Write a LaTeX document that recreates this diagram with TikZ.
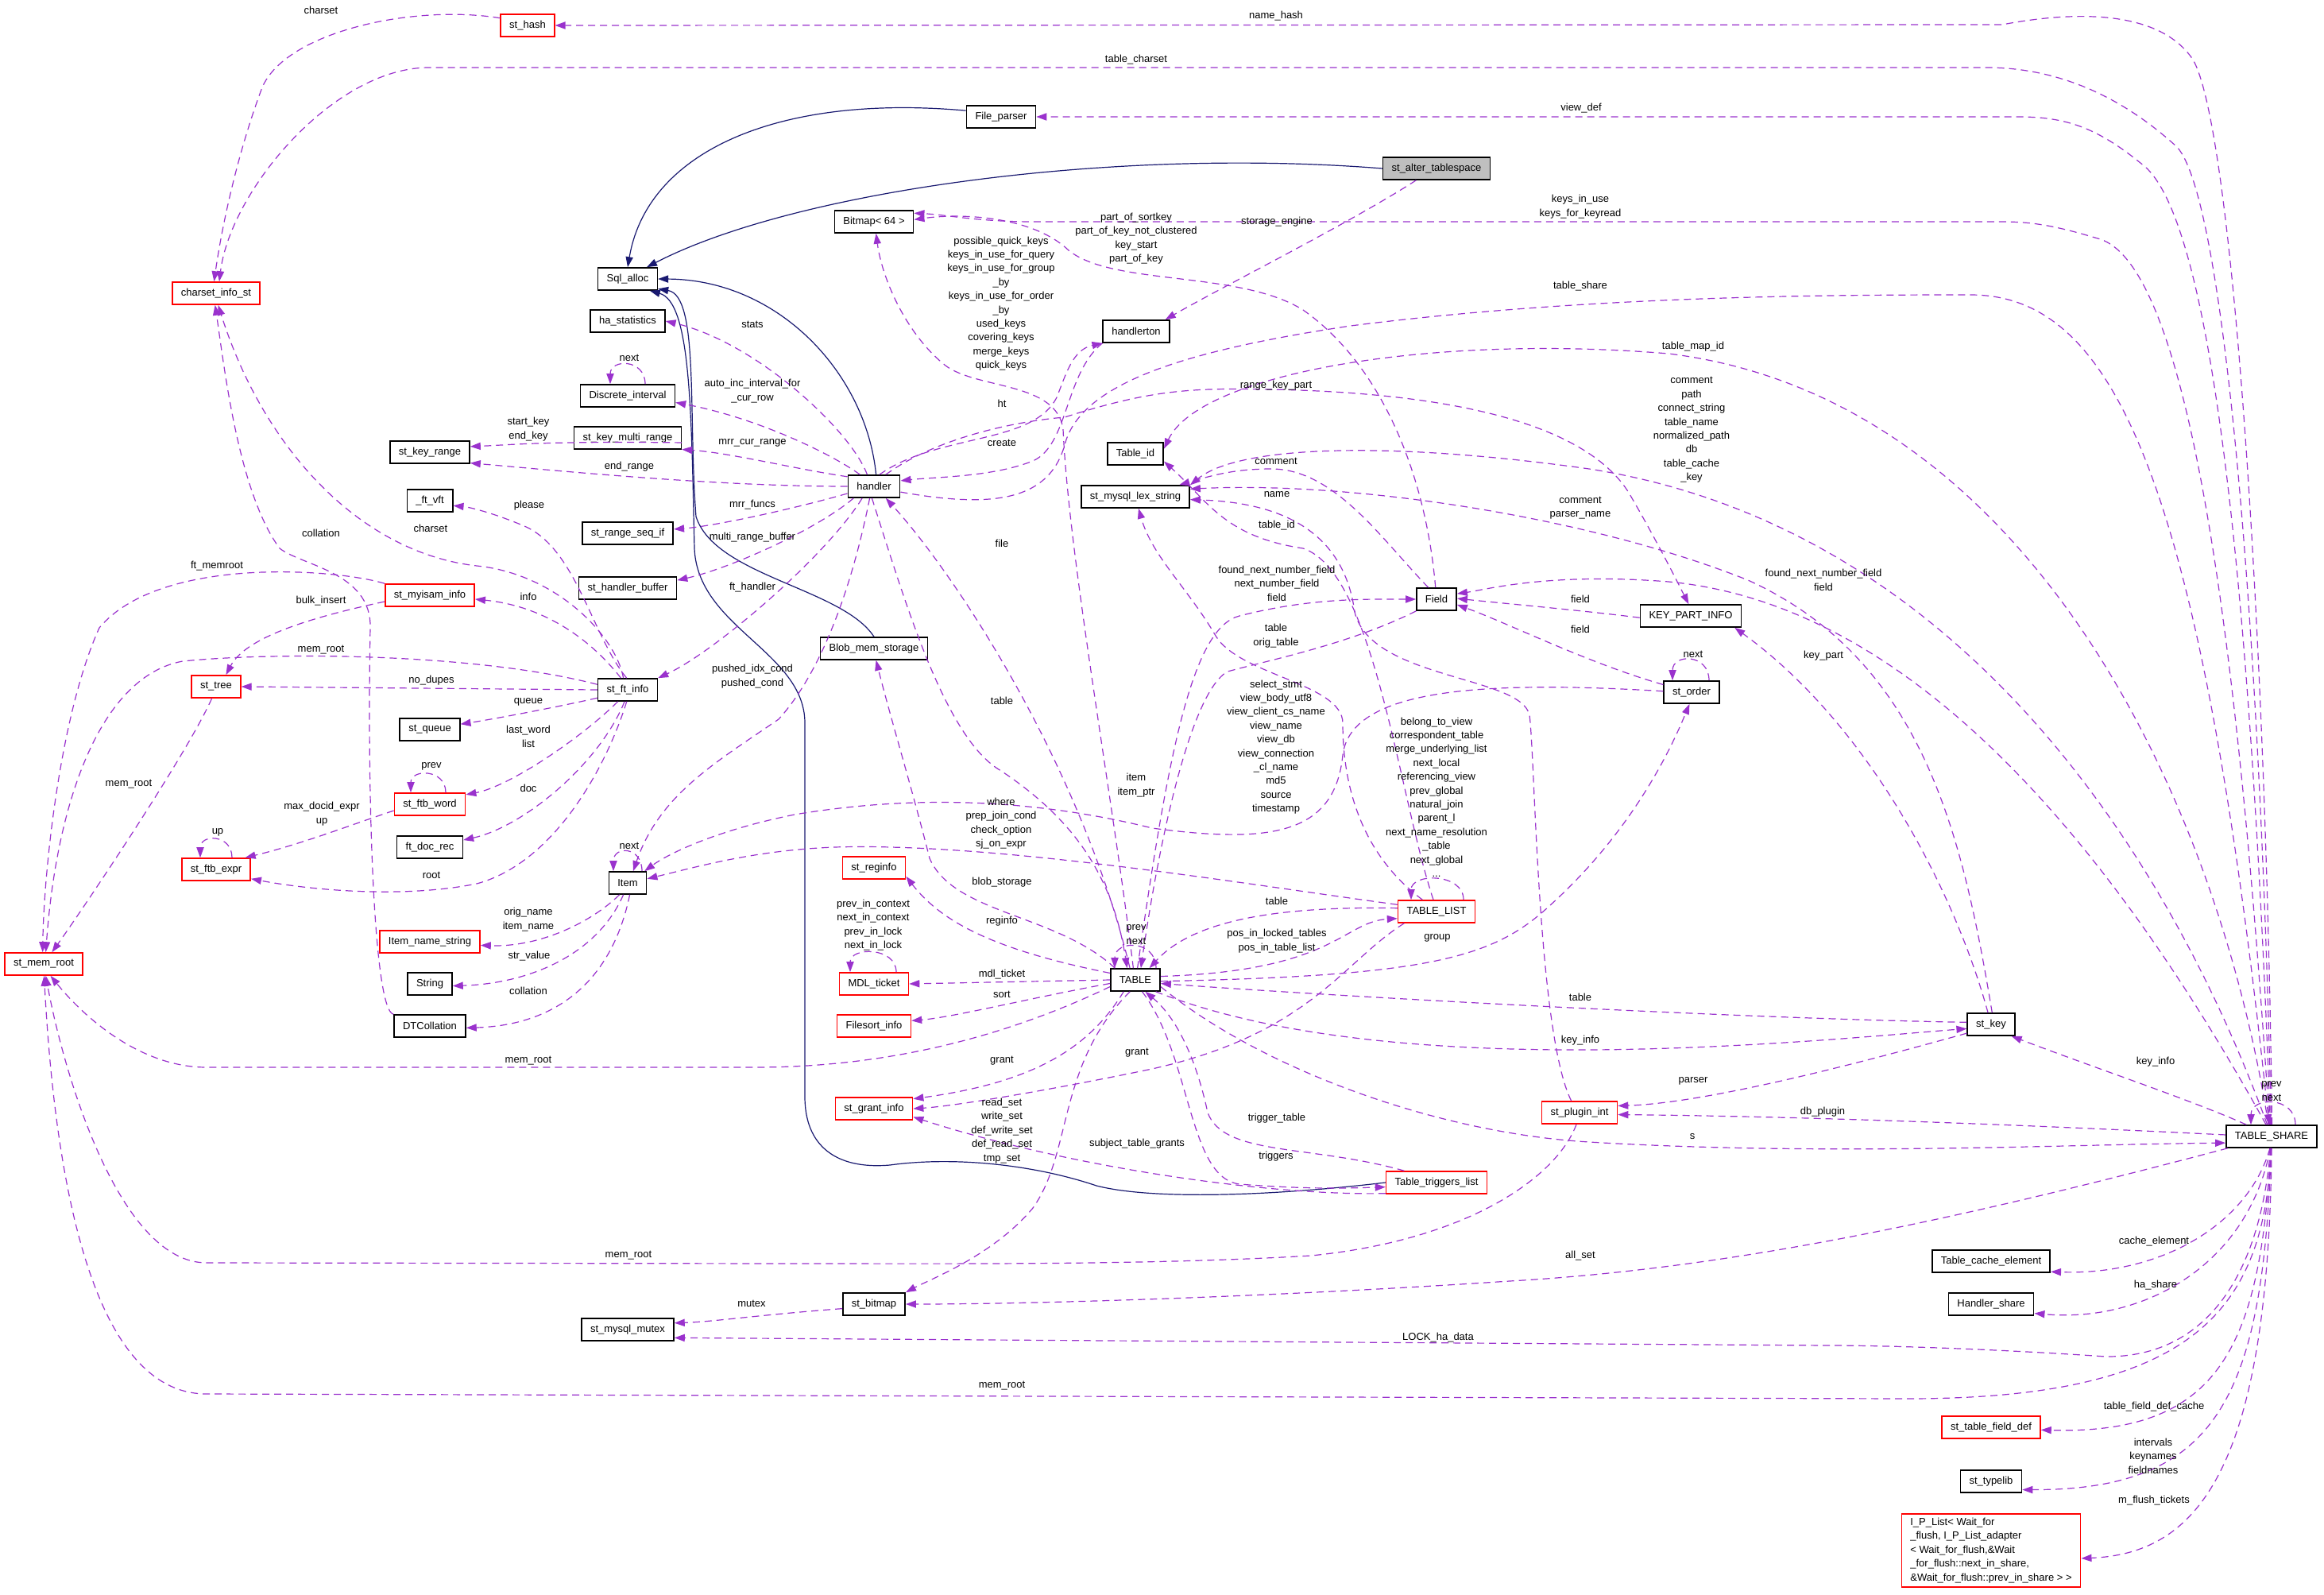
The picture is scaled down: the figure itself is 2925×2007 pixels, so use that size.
\documentclass[tikz,border=0pt]{standalone}
\usepackage{fontspec}
\setmainfont{Liberation Sans}
\usetikzlibrary{arrows.meta}

\definecolor{dxpurple}{HTML}{9A32CD}
\definecolor{dxblue}{HTML}{191970}
\definecolor{dxred}{HTML}{FF0000}
\definecolor{dxgray}{HTML}{BFBFBF}
\newcommand\dxfont{\fontsize{6.5}{8.7}\selectfont}

\tikzset{
  cls/.style={draw=black, line width=0.8pt, fill=white, minimum height=14pt,
              inner xsep=5.5pt, inner ysep=0pt, font=\dxfont},
  trunc/.style={cls, draw=dxred},
  curcls/.style={cls, fill=dxgray},
  lbl/.style={font=\dxfont, align=center, inner sep=0pt},
  dep/.style={draw=dxpurple, line width=0.6pt, dash pattern=on 4.5pt off 3pt,
              -{Triangle[length=6.5pt,width=4.6pt]}},
  inh/.style={draw=dxblue, line width=0.6pt, -{Triangle[length=6.5pt,width=4.6pt]}}
}

\begin{document}
\catcode`\_=12
\begin{tikzpicture}[x=0.5pt, y=-0.5pt]
   \useasboundingbox (0,0) rectangle (2925,2007);
   % classes
   \node[trunc] (sthash) at (664,32) {st_hash};
   \node[trunc] (charset) at (272,369) {charset_info_st};
   \node[cls] (fileparser) at (1260,147) {File_parser};
   \node[curcls] (alterts) at (1808,212) {st_alter_tablespace};
   \node[cls] (bitmap) at (1100,279) {Bitmap< 64 >};
   \node[cls] (sqlalloc) at (790,351) {Sql_alloc};
   \node[cls] (hastats) at (790,404) {ha_statistics};
   \node[cls] (handlerton) at (1430,417) {handlerton};
   \node[cls] (discrete) at (790,498) {Discrete_interval};
   \node[cls] (keymulti) at (790,551) {st_key_multi_range};
   \node[cls] (keyrange) at (541,569) {st_key_range};
   \node[cls] (tableid) at (1429,571) {Table_id};
   \node[cls] (handler) at (1100,612) {handler};
   \node[cls] (lexstr) at (1429,625) {st_mysql_lex_string};
   \node[cls] (ftvft) at (541,630) {_ft_vft};
   \node[cls] (rangeseq) at (790,671) {st_range_seq_if};
   \node[cls] (hbuffer) at (790,740) {st_handler_buffer};
   \node[trunc] (myisam) at (541,749) {st_myisam_info};
   \node[cls] (field) at (1808,754) {Field};
   \node[cls] (keypart) at (2128,775) {KEY_PART_INFO};
   \node[cls] (blobmem) at (1100,816) {Blob_mem_storage};
   \node[trunc] (sttree) at (272,864) {st_tree};
   \node[cls] (ftinfo) at (790,868) {st_ft_info};
   \node[cls] (storder) at (2129,871) {st_order};
   \node[cls] (stqueue) at (541,918) {st_queue};
   \node[trunc] (ftbword) at (541,1012) {st_ftb_word};
   \node[cls] (ftdocrec) at (541,1066) {ft_doc_rec};
   \node[trunc] (reginfo) at (1100,1092) {st_reginfo};
   \node[trunc] (ftbexpr) at (272,1094) {st_ftb_expr};
   \node[cls] (item) at (790,1111) {Item};
   \node[trunc] (tablelist) at (1808,1147) {TABLE_LIST};
   \node[trunc] (itemname) at (541,1185) {Item_name_string};
   \node[trunc] (memroot) at (55,1213) {st_mem_root};
   \node[trunc] (mdlticket) at (1100,1238) {MDL_ticket};
   \node[cls] (table) at (1429,1233) {TABLE};
   \node[cls] (string) at (541,1238) {String};
   \node[cls] (stkey) at (2506,1289) {st_key};
   \node[cls] (dtcoll) at (541,1291) {DTCollation};
   \node[trunc] (filesort) at (1100,1291) {Filesort_info};
   \node[trunc] (grantinfo) at (1100,1395) {st_grant_info};
   \node[trunc] (plugin) at (1988,1400) {st_plugin_int};
   \node[cls] (tshare) at (2859,1430) {TABLE_SHARE};
   \node[trunc] (triggers) at (1808,1488) {Table_triggers_list};
   \node[cls] (cacheel) at (2506,1587) {Table_cache_element};
   \node[cls] (bitmapst) at (1100,1641) {st_bitmap};
   \node[cls] (hshare) at (2506,1641) {Handler_share};
   \node[cls] (mutex) at (790,1673) {st_mysql_mutex};
   \node[trunc] (fielddef) at (2506,1796) {st_table_field_def};
   \node[cls] (typelib) at (2506,1864) {st_typelib};
   \node[trunc, align=left, inner ysep=2.5pt] (iplist) at (2506,1951)
      {I_P_List< Wait_for\\_flush, I_P_List_adapter\\< Wait_for_flush,\&Wait\\_for_flush::next_in_share,\\\&Wait_for_flush::prev_in_share > >};

   % inheritance
   \draw[inh] (fileparser.170) .. controls (980,118) and (815,190) .. (sqlalloc.north);
   \draw[inh] (alterts.west) .. controls (1400,185) and (1000,240) .. ([xshift=12pt]sqlalloc.north);
   \draw[inh] (handler.80) .. controls (1090,470) and (980,352) .. (sqlalloc.east);
   \draw[inh] (blobmem.north) .. controls (1060,740) and (900,725) .. (876,650)
      .. controls (866,520) and (880,372) .. (sqlalloc.-18);
   \draw[inh] (triggers.west) .. controls (1600,1505) and (1450,1510) .. (1380,1492)
      .. controls (1300,1465) and (1200,1455) .. (1120,1466)
      .. controls (1050,1472) and (1013,1440) .. (1013,1380) -- (1013,910)
      .. controls (1013,820) and (878,790) .. (874,690)
      .. controls (870,520) and (870,380) .. (sqlalloc.-28);

   % members of TABLE_SHARE
   \draw[dep] (tshare.88) .. controls (2852,800) and (2810,160) .. (2760,75)
      .. controls (2720,15) and (2620,12) .. (2520,31) -- (sthash.east);
   \draw[dep] (tshare.92) .. controls (2845,800) and (2800,250) .. (2740,185)
      .. controls (2680,130) and (2600,85) .. (2500,85) -- (540,85)
      .. controls (420,85) and (290,240) .. (charset.75);
   \draw[dep] (tshare.96) .. controls (2835,800) and (2790,290) .. (2700,210)
      .. controls (2640,160) and (2600,147) .. (2540,147) -- (fileparser.east);
   \draw[dep] (tshare.100) .. controls (2820,850) and (2760,330) .. (2640,300)
      .. controls (2590,285) and (2560,279) .. (2520,279) -- (1300,279)
      .. controls (1230,279) and (1190,270) .. (bitmap.12);
   \draw[dep] (tshare.105) .. controls (2790,1000) and (2550,500) .. (2100,445)
      .. controls (1800,420) and (1510,470) .. (tableid.10);
   \draw[dep] (tshare.110) .. controls (2720,1050) and (2450,660) .. (2000,590)
      .. controls (1750,555) and (1560,560) .. (lexstr.12);
   \draw[dep] (tshare.115) .. controls (2650,1050) and (2400,760) .. (2100,732)
      .. controls (1950,720) and (1870,742) .. (field.15);
   \draw[dep] (tshare.155) .. controls (2760,1385) and (2640,1345) .. (stkey.-30);
   \draw[dep] (tshare.178) .. controls (2600,1418) and (2300,1405) .. (plugin.-3);
   \draw[dep] (tshare.-165) .. controls (2500,1525) and (2200,1595) .. (1900,1612)
      .. controls (1600,1632) and (1300,1641) .. (bitmapst.east);
   \draw[dep] (tshare.-95) .. controls (2845,1600) and (2780,1708) .. (2650,1707)
      .. controls (2550,1700) and (2400,1693) .. (2300,1693) -- (mutex.-10);
   \draw[dep] (tshare.-92) .. controls (2850,1650) and (2760,1760) .. (2400,1760)
      -- (260,1754) .. controls (120,1754) and (70,1500) .. (memroot.-88);
   \draw[dep] (tshare.-98) .. controls (2830,1540) and (2720,1605) .. (cacheel.-10);
   \draw[dep] (tshare.-96) .. controls (2830,1590) and (2700,1665) .. (hshare.-12);
   \draw[dep] (tshare.-94) .. controls (2845,1700) and (2790,1805) .. (fielddef.-3);
   \draw[dep] (tshare.-92) .. controls (2848,1760) and (2790,1875) .. (typelib.-15);
   \draw[dep] (tshare.-90) .. controls (2855,1860) and (2760,1955) .. (iplist.-5);
   \draw[dep] ([xshift=15pt]tshare.north) .. controls +(0,-36) and +(0,-36) .. ([xshift=-13pt]tshare.north);

   % members of handler
   \draw[dep] (handler.120) .. controls (1070,540) and (950,430) .. (hastats.east);
   \draw[dep] (handler.140) .. controls (1045,570) and (950,525) .. (discrete.-8);
   \draw[dep] (handler.160) .. controls (1000,590) and (920,570) .. (keymulti.-12);
   \draw[dep] (handler.180) .. controls (900,612) and (700,592) .. (keyrange.-15);
   \draw[dep] (handler.-165) .. controls (1000,640) and (900,662) .. (rangeseq.5);
   \draw[dep] (handler.-150) .. controls (1030,665) and (920,715) .. (hbuffer.9);
   \draw[dep] (handler.-135) .. controls (1040,700) and (900,820) .. (ftinfo.north east);
   \draw[dep] (handler.-110) .. controls (1070,750) and (1030,850) .. (980,905)
      .. controls (900,960) and (830,1000) .. (item.65);
   \draw[dep] (handler.65) .. controls (1180,545) and (1300,560) .. (1330,500)
      .. controls (1342,470) and (1350,440) .. (handlerton.south west);
   \draw[dep] (handlerton.south west) .. controls (1340,470) and (1345,560) .. (1300,580)
      .. controls (1250,600) and (1180,600) .. (handler.12);
   \draw[dep] (handler.-12) .. controls (1250,640) and (1320,630) .. (1340,560)
      .. controls (1360,480) and (1500,440) .. (1700,410)
      .. controls (2000,372) and (2300,371) .. (2480,371)
      .. controls (2660,371) and (2770,600) .. (tshare.102);
   \draw[dep] (handler.45) .. controls (1180,550) and (1280,530) .. (1340,525)
      .. controls (1450,490) and (1500,488) .. (1600,490)
      .. controls (1850,495) and (2000,540) .. (2050,620)
      .. controls (2085,680) and (2110,730) .. (keypart.100);
   \draw[dep] (handler.-100) .. controls (1140,760) and (1190,930) .. (1260,970)
      .. controls (1350,1030) and (1400,1100) .. (table.125);

   % members of TABLE
   \draw[dep] (table.115) .. controls (1360,960) and (1200,720) .. (handler.-45);
   \draw[dep] (table.100) .. controls (1400,1000) and (1345,700) .. (1338,540)
      .. controls (1330,480) and (1230,490) .. (1190,460)
      .. controls (1140,420) and (1110,350) .. (bitmap.-80);
   \draw[dep] (table.80) .. controls (1470,950) and (1500,790) .. (1560,775)
      .. controls (1650,752) and (1720,754) .. (field.west);
   \draw[dep] (table.8) .. controls (1680,1222) and (1690,1160) .. (tablelist.-170);
   \draw[dep] (table.-3) .. controls (1800,1228) and (1880,1205) .. (1950,1140)
      .. controls (2050,1050) and (2100,950) .. (storder.-100);
   \draw[dep] (table.-30) .. controls (1600,1305) and (1800,1322) .. (2000,1321)
      .. controls (2200,1320) and (2400,1300) .. (stkey.-170);
   \draw[dep] (table.-15) .. controls (1580,1340) and (1800,1425) .. (2000,1437)
      .. controls (2300,1455) and (2600,1440) .. (tshare.-172);
   \draw[dep] (table.-60) .. controls (1500,1330) and (1495,1482) .. (1560,1490)
      .. controls (1650,1497) and (1700,1495) .. (triggers.-175);
   \draw[dep] (table.-135) .. controls (1370,1320) and (1300,1362) .. (grantinfo.14);
   \draw[dep] (table.-115) .. controls (1330,1340) and (1350,1450) .. (1300,1520)
      .. controls (1250,1580) and (1170,1610) .. (bitmapst.north east);
   \draw[dep] (table.-165) .. controls (1250,1312) and (1100,1343) .. (950,1343)
      -- (260,1343) .. controls (180,1343) and (110,1285) .. (memroot.-60);
   \draw[dep] (table.165) .. controls (1250,1195) and (1185,1160) .. (reginfo.-15);
   \draw[dep] (table.150) .. controls (1330,1150) and (1200,1150) .. (1170,1080)
      .. controls (1150,1000) and (1120,900) .. (blobmem.-80);
   \draw[dep] (table.west) -- (mdlticket.east);
   \draw[dep] (table.-172) .. controls (1300,1255) and (1200,1280) .. (filesort.8);
   \draw[dep] ([xshift=13pt]table.north) .. controls +(0,-36) and +(0,-36) .. ([xshift=-13pt]table.north);

   % members of Field, KEY_PART_INFO, st_order, st_key
   \draw[dep] (field.-150) .. controls (1700,810) and (1600,830) .. (1545,845)
      .. controls (1500,870) and (1460,1050) .. (table.65);
   \draw[dep] (field.95) .. controls (1795,600) and (1740,460) .. (1640,390)
      .. controls (1560,340) and (1400,360) .. (1345,315)
      .. controls (1300,272) and (1210,268) .. (bitmap.3);
   \draw[dep] (field.125) .. controls (1740,680) and (1680,590) .. (1600,590)
      .. controls (1550,590) and (1520,600) .. (lexstr.15);
   \draw[dep] (keypart.-178) .. controls (1990,768) and (1900,760) .. (field.2);
   \draw[dep] (storder.165) .. controls (2000,835) and (1900,785) .. (field.-15);
   \draw[dep] ([xshift=11pt]storder.north) .. controls +(0,-34) and +(0,-34) .. ([xshift=-12pt]storder.north);
   \draw[dep] (storder.178) .. controls (1850,855) and (1700,870) .. (1690,950)
      .. controls (1680,1050) and (1600,1062) .. (1450,1042)
      .. controls (1300,1005) and (1150,1000) .. (1000,1025)
      .. controls (900,1045) and (840,1075) .. (item.35);
   \draw[dep] (stkey.105) .. controls (2460,1120) and (2350,910) .. (keypart.-15);
   \draw[dep] (stkey.85) .. controls (2470,1050) and (2420,830) .. (2200,730)
      .. controls (2000,650) and (1700,605) .. (lexstr.8);
   \draw[dep] (stkey.175) .. controls (2200,1282) and (1700,1255) .. (table.-8);
   \draw[dep] (stkey.-160) .. controls (2350,1335) and (2150,1388) .. (plugin.10);

   % members of st_plugin_int, TABLE_LIST, Table_triggers_list
   \draw[dep] (plugin.125) .. controls (1935,1300) and (1932,950) .. (1925,900)
      .. controls (1915,850) and (1725,855) .. (1705,770)
      .. controls (1690,660) and (1600,632) .. (lexstr.-3);
   \draw[dep] (plugin.-105) .. controls (1960,1480) and (1850,1560) .. (1650,1580)
      .. controls (1450,1592) and (1200,1590) .. (1000,1590) -- (260,1589)
      .. controls (150,1589) and (80,1350) .. (memroot.-80);
   \draw[dep] (tablelist.175) .. controls (1600,1140) and (1500,1160) .. (table.40);
   \draw[dep] (tablelist.140) .. controls (1720,1080) and (1690,1000) .. (1690,910)
      .. controls (1690,860) and (1560,850) .. (1530,800)
      .. controls (1495,740) and (1450,700) .. (lexstr.-75);
   \draw[dep] (tablelist.105) .. controls (1760,1000) and (1730,720) .. (1640,690)
      .. controls (1540,675) and (1520,630) .. (tableid.-15);
   \draw[dep] (tablelist.170) .. controls (1550,1110) and (1250,1060) .. (1050,1066)
      .. controls (950,1070) and (880,1090) .. (item.12);
   \draw[dep] (tablelist.-160) .. controls (1690,1210) and (1650,1300) .. (1450,1345)
      .. controls (1320,1372) and (1200,1392) .. (grantinfo.east);
   \draw[dep] ([xshift=17pt]tablelist.north) .. controls +(0,-34) and +(0,-34) .. ([xshift=-16pt]tablelist.north);
   \draw[dep] (triggers.160) .. controls (1650,1440) and (1540,1455) .. (1520,1400)
      .. controls (1505,1330) and (1480,1280) .. (table.-50);
   \draw[dep] (triggers.-168) .. controls (1600,1505) and (1350,1470) .. (grantinfo.-12);
   \draw[dep] (alterts.-150) .. controls (1700,280) and (1540,360) .. (handlerton.22);

   % left-hand classes
   \draw[dep] (sthash.165) .. controls (520,5) and (360,40) .. (330,110)
      .. controls (300,190) and (280,280) .. (charset.100);
   \draw[dep] (dtcoll.north west) .. controls (470,1272) and (462,1000) .. (466,790)
      .. controls (468,720) and (380,712) .. (352,690)
      .. controls (300,620) and (282,460) .. (charset.-95);
   \draw[dep] (ftinfo.110) .. controls (775,800) and (700,722) .. (600,712)
      .. controls (450,695) and (330,560) .. (charset.-80);
   \draw[dep] (ftinfo.95) .. controls (745,800) and (725,690) .. (660,662)
      .. controls (620,645) and (590,638) .. (ftvft.-12);
   \draw[dep] (ftinfo.120) .. controls (740,800) and (680,762) .. (myisam.-5);
   \draw[dep] (myisam.north west) .. controls (420,715) and (200,700) .. (125,790)
      .. controls (75,900) and (55,1100) .. (memroot.95);
   \draw[dep] (myisam.-172) .. controls (400,775) and (310,800) .. (sttree.50);
   \draw[dep] (ftinfo.170) .. controls (600,822) and (350,820) .. (230,832)
      .. controls (130,850) and (72,1000) .. (memroot.80);
   \draw[dep] (ftinfo.west) -- (sttree.east);
   \draw[dep] (sttree.-110) .. controls (235,950) and (100,1150) .. (memroot.55);
   \draw[dep] (ftinfo.-165) .. controls (700,890) and (620,905) .. (stqueue.10);
   \draw[dep] (ftinfo.-130) .. controls (730,930) and (640,990) .. (ftbword.15);
   \draw[dep] ([xshift=10pt]ftbword.north) .. controls +(0,-30) and +(0,-30) .. ([xshift=-12pt]ftbword.north);
   \draw[dep] (ftbword.-170) .. controls (450,1035) and (380,1062) .. (ftbexpr.22);
   \draw[dep] ([xshift=10pt]ftbexpr.north) .. controls +(0,-30) and +(0,-30) .. ([xshift=-10pt]ftbexpr.north);
   \draw[dep] (ftinfo.-105) .. controls (755,960) and (660,1040) .. (ftdocrec.12);
   \draw[dep] (ftinfo.-95) .. controls (765,960) and (700,1085) .. (600,1112)
      .. controls (500,1132) and (380,1118) .. (ftbexpr.-15);
   \draw[dep] ([xshift=11pt]discrete.north) .. controls +(0,-32) and +(0,-32) .. ([xshift=-11pt]discrete.north);
   \draw[dep] (keymulti.-5) .. controls (680,555) and (640,560) .. (keyrange.8);
   \draw[dep] ([xshift=9pt]item.north) .. controls +(0,-32) and +(0,-32) .. ([xshift=-9pt]item.north);
   \draw[dep] (item.-125) .. controls (745,1160) and (680,1192) .. (itemname.-4);
   \draw[dep] (item.-110) .. controls (750,1205) and (660,1238) .. (string.-5);
   \draw[dep] (item.-80) .. controls (770,1235) and (700,1290) .. (dtcoll.-3);
   \draw[dep] ([xshift=14pt]mdlticket.north) .. controls +(0,-32) and +(0,-32) .. ([xshift=-15pt]mdlticket.north);
   \draw[dep] (bitmapst.-172) .. controls (950,1655) and (900,1663) .. (mutex.8);

   % member names
   \node[lbl] (lCharsetA) at (404,13) {charset};
   \node[lbl] (lNameHash) at (1606,20) {name_hash};
   \node[lbl] (lTableCharset) at (1430,75) {table_charset};
   \node[lbl] (lViewDef) at (1990,136) {view_def};
   \node[lbl] (lKeysInUse) at (1989,260) {keys_in_use\\keys_for_keyread};
   \node[lbl] (lStorage) at (1607,279) {storage_engine};
   \node[lbl] (lPartOf) at (1430,300) {part_of_sortkey\\part_of_key_not_clustered\\key_start\\part_of_key};
   \node[lbl] (lQuickKeys) at (1260,382) {possible_quick_keys\\keys_in_use_for_query\\keys_in_use_for_group\\_by\\keys_in_use_for_order\\_by\\used_keys\\covering_keys\\merge_keys\\quick_keys};
   \node[lbl] (lTableShare) at (1989,360) {table_share};
   \node[lbl] (lStats) at (947,408) {stats};
   \node[lbl] (lMapId) at (2131,436) {table_map_id};
   \node[lbl] (lNextA) at (792,450) {next};
   \node[lbl] (lAutoInc) at (947,492) {auto_inc_interval_for\\_cur_row};
   \node[lbl] (lRangeKey) at (1606,485) {range_key_part};
   \node[lbl] (lHt) at (1261,508) {ht};
   \node[lbl] (lStartKey) at (665,540) {start_key\\end_key};
   \node[lbl] (lShareStr) at (2129,541) {comment\\path\\connect_string\\table_name\\normalized_path\\db\\table_cache\\_key};
   \node[lbl] (lMrrCur) at (947,557) {mrr_cur_range};
   \node[lbl] (lCreate) at (1261,557) {create};
   \node[lbl] (lCommentA) at (1606,580) {comment};
   \node[lbl] (lEndRange) at (792,587) {end_range};
   \node[lbl] (lName) at (1607,622) {name};
   \node[lbl] (lCommentB) at (1989,639) {comment\\parser_name};
   \node[lbl] (lMrrFuncs) at (947,635) {mrr_funcs};
   \node[lbl] (lPlease) at (666,636) {please};
   \node[lbl] (lTableId) at (1607,661) {table_id};
   \node[lbl] (lCharsetB) at (542,665) {charset};
   \node[lbl] (lCollationA) at (404,671) {collation};
   \node[lbl] (lMultiRange) at (947,676) {multi_range_buffer};
   \node[lbl] (lFile) at (1261,684) {file};
   \node[lbl] (lFtMemroot) at (273,712) {ft_memroot};
   \node[lbl] (lShareField) at (2295,730) {found_next_number_field\\field};
   \node[lbl] (lTableField) at (1607,734) {found_next_number_field\\next_number_field\\field};
   \node[lbl] (lFtHandler) at (947,739) {ft_handler};
   \node[lbl] (lInfo) at (665,751) {info};
   \node[lbl] (lFieldA) at (1989,754) {field};
   \node[lbl] (lBulk) at (404,756) {bulk_insert};
   \node[lbl] (lOrigTable) at (1606,800) {table\\orig_table};
   \node[lbl] (lFieldB) at (1989,792) {field};
   \node[lbl] (lMemRootA) at (404,818) {mem_root};
   \node[lbl] (lNextB) at (2131,823) {next};
   \node[lbl] (lKeyPart) at (2295,825) {key_part};
   \node[lbl] (lPushed) at (947,851) {pushed_idx_cond\\pushed_cond};
   \node[lbl] (lNoDupes) at (543,856) {no_dupes};
   \node[lbl] (lTableA) at (1261,882) {table};
   \node[lbl] (lQueue) at (665,883) {queue};
   \node[lbl] (lLastWord) at (665,927) {last_word\\list};
   \node[lbl] (lViewStr) at (1606,940) {select_stmt\\view_body_utf8\\view_client_cs_name\\view_name\\view_db\\view_connection\\_cl_name\\md5\\source\\timestamp};
   \node[lbl] (lPrevA) at (543,964) {prev};
   \node[lbl] (lMemRootB) at (162,987) {mem_root};
   \node[lbl] (lItemPtr) at (1430,988) {item\\item_ptr};
   \node[lbl] (lDoc) at (665,992) {doc};
   \node[lbl] (lListSelf) at (1808,1003) {belong_to_view\\correspondent_table\\merge_underlying_list\\next_local\\referencing_view\\prev_global\\natural_join\\parent_l\\next_name_resolution\\_table\\next_global\\...};
   \node[lbl] (lMaxDocid) at (405,1024) {max_docid_expr\\up};
   \node[lbl] (lWhere) at (1260,1036) {where\\prep_join_cond\\check_option\\sj_on_expr};
   \node[lbl] (lUp) at (274,1047) {up};
   \node[lbl] (lNextC) at (792,1064) {next};
   \node[lbl] (lRoot) at (543,1101) {root};
   \node[lbl] (lBlob) at (1261,1110) {blob_storage};
   \node[lbl] (lTableB) at (1607,1134) {table};
   \node[lbl] (lItemName) at (665,1157) {orig_name\\item_name};
   \node[lbl] (lReginfo) at (1261,1159) {reginfo};
   \node[lbl] (lMdlSelf) at (1099,1164) {prev_in_context\\next_in_context\\prev_in_lock\\next_in_lock};
   \node[lbl] (lTablePrev) at (1430,1176) {prev\\next};
   \node[lbl] (lPosIn) at (1607,1184) {pos_in_locked_tables\\pos_in_table_list};
   \node[lbl] (lGroup) at (1809,1180) {group};
   \node[lbl] (lStrValue) at (666,1203) {str_value};
   \node[lbl] (lMdl) at (1261,1226) {mdl_ticket};
   \node[lbl] (lCollationB) at (665,1247) {collation};
   \node[lbl] (lSort) at (1261,1251) {sort};
   \node[lbl] (lTableC) at (1989,1255) {table};
   \node[lbl] (lKeyInfoA) at (1989,1309) {key_info};
   \node[lbl] (lGrantA) at (1431,1325) {grant};
   \node[lbl] (lGrantB) at (1261,1335) {grant};
   \node[lbl] (lMemRootC) at (665,1335) {mem_root};
   \node[lbl] (lKeyInfoB) at (2713,1336) {key_info};
   \node[lbl] (lParser) at (2131,1360) {parser};
   \node[lbl] (lSharePrev) at (2859,1373) {prev\\next};
   \node[lbl] (lDbPlugin) at (2294,1399) {db_plugin};
   \node[lbl] (lTrigTable) at (1607,1407) {trigger_table};
   \node[lbl] (lSets) at (1261,1423) {read_set\\write_set\\def_write_set\\def_read_set\\tmp_set};
   \node[lbl] (lS) at (2130,1430) {s};
   \node[lbl] (lSubject) at (1431,1439) {subject_table_grants};
   \node[lbl] (lTriggers) at (1606,1455) {triggers};
   \node[lbl] (lCacheEl) at (2711,1562) {cache_element};
   \node[lbl] (lAllSet) at (1989,1580) {all_set};
   \node[lbl] (lMemRootD) at (791,1580) {mem_root};
   \node[lbl] (lHaShare) at (2713,1617) {ha_share};
   \node[lbl] (lMutex) at (946,1640) {mutex};
   \node[lbl] (lLockHa) at (1810,1683) {LOCK_ha_data};
   \node[lbl] (lMemRootE) at (1261,1744) {mem_root};
   \node[lbl] (lFieldDef) at (2711,1770) {table_field_def_cache};
   \node[lbl] (lIntervals) at (2710,1832) {intervals\\keynames\\fieldnames};
   \node[lbl] (lFlush) at (2711,1888) {m_flush_tickets};
\end{tikzpicture}
\end{document}
